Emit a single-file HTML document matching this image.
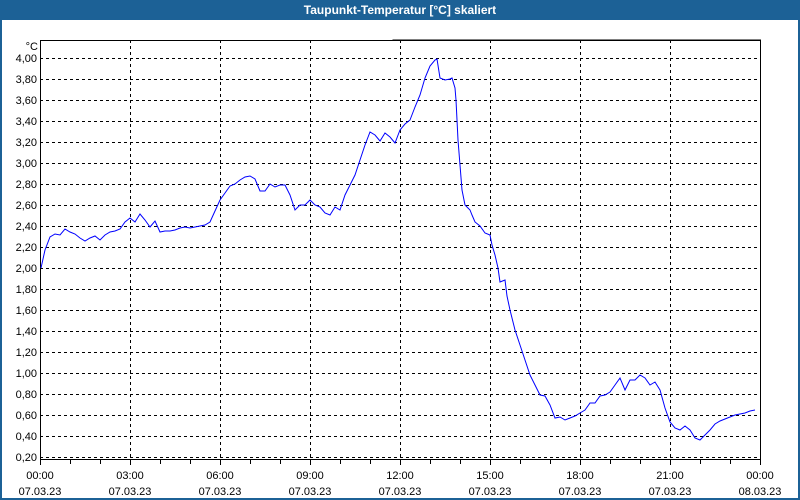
<!DOCTYPE html>
<html><head><meta charset="utf-8"><style>
html,body{margin:0;padding:0;background:#fff;}
svg{display:block;font-family:"Liberation Sans",Tahoma,sans-serif;}
</style></head><body>
<svg width="800" height="500" viewBox="0 0 800 500" xmlns="http://www.w3.org/2000/svg">
<rect x="0" y="0" width="800" height="500" fill="#1c6196"/>
<rect x="2" y="20" width="796" height="478" fill="#fff"/>
<text x="400" y="14" fill="#fff" font-size="12" font-weight="bold" text-anchor="middle">Taupunkt-Temperatur [°C] skaliert</text>
<g stroke="#000" stroke-width="1" stroke-dasharray="3,3" shape-rendering="crispEdges">
<line x1="40" x2="760" y1="58.5" y2="58.5"/><line x1="40" x2="760" y1="79.5" y2="79.5"/><line x1="40" x2="760" y1="100.5" y2="100.5"/><line x1="40" x2="760" y1="121.5" y2="121.5"/><line x1="40" x2="760" y1="142.5" y2="142.5"/><line x1="40" x2="760" y1="163.5" y2="163.5"/><line x1="40" x2="760" y1="184.5" y2="184.5"/><line x1="40" x2="760" y1="205.5" y2="205.5"/><line x1="40" x2="760" y1="226.5" y2="226.5"/><line x1="40" x2="760" y1="247.5" y2="247.5"/><line x1="40" x2="760" y1="268.5" y2="268.5"/><line x1="40" x2="760" y1="289.5" y2="289.5"/><line x1="40" x2="760" y1="310.5" y2="310.5"/><line x1="40" x2="760" y1="331.5" y2="331.5"/><line x1="40" x2="760" y1="352.5" y2="352.5"/><line x1="40" x2="760" y1="373.5" y2="373.5"/><line x1="40" x2="760" y1="394.5" y2="394.5"/><line x1="40" x2="760" y1="415.5" y2="415.5"/><line x1="40" x2="760" y1="436.5" y2="436.5"/><line x1="40" x2="760" y1="457.5" y2="457.5"/>
<line x1="130.5" x2="130.5" y1="40" y2="460"/><line x1="220.5" x2="220.5" y1="40" y2="460"/><line x1="310.5" x2="310.5" y1="40" y2="460"/><line x1="400.5" x2="400.5" y1="40" y2="460"/><line x1="490.5" x2="490.5" y1="40" y2="460"/><line x1="580.5" x2="580.5" y1="40" y2="460"/><line x1="670.5" x2="670.5" y1="40" y2="460"/>
</g>
<g stroke="#000" stroke-width="1" fill="none" shape-rendering="crispEdges">
<polyline points="40.5,40 40.5,459.5 760.5,459.5 760.5,40 40,40.5 760,40.5"/>
<path d="M40.5 460v5M70.5 460v4M100.5 460v4M130.5 460v5M160.5 460v4M190.5 460v4M220.5 460v5M250.5 460v4M280.5 460v4M310.5 460v5M340.5 460v4M370.5 460v4M400.5 460v5M430.5 460v4M460.5 460v4M490.5 460v5M520.5 460v4M550.5 460v4M580.5 460v5M610.5 460v4M640.5 460v4M670.5 460v5M700.5 460v4M730.5 460v4M760.5 460v5"/>
</g>
<g font-size="11" fill="#000" text-anchor="end">
<text x="38" y="50">°C</text>
<text x="37" y="62">4,00</text><text x="37" y="83">3,80</text><text x="37" y="104">3,60</text><text x="37" y="125">3,40</text><text x="37" y="146">3,20</text><text x="37" y="167">3,00</text><text x="37" y="188">2,80</text><text x="37" y="209">2,60</text><text x="37" y="230">2,40</text><text x="37" y="251">2,20</text><text x="37" y="272">2,00</text><text x="37" y="293">1,80</text><text x="37" y="314">1,60</text><text x="37" y="335">1,40</text><text x="37" y="356">1,20</text><text x="37" y="377">1,00</text><text x="37" y="398">0,80</text><text x="37" y="419">0,60</text><text x="37" y="440">0,40</text><text x="37" y="461">0,20</text>
</g>
<g font-size="11" fill="#000" text-anchor="middle">
<text x="40" y="479">00:00</text><text x="40" y="495">07.03.23</text>
<text x="130" y="479">03:00</text><text x="130" y="495">07.03.23</text>
<text x="220" y="479">06:00</text><text x="220" y="495">07.03.23</text>
<text x="310" y="479">09:00</text><text x="310" y="495">07.03.23</text>
<text x="400" y="479">12:00</text><text x="400" y="495">07.03.23</text>
<text x="490" y="479">15:00</text><text x="490" y="495">07.03.23</text>
<text x="580" y="479">18:00</text><text x="580" y="495">07.03.23</text>
<text x="670" y="479">21:00</text><text x="670" y="495">07.03.23</text>
<text x="760" y="479">00:00</text><text x="760" y="495">08.03.23</text>
</g>
<polyline fill="none" stroke="#0000ff" stroke-width="1" points="41,268 45,250 50,237 55,234 60,235 65,229 70,232 75,234 80,238 85,241 90,238 95,236 100,240 105,235 110,232 115,231 120,229 125,222 130,218 135,222 140,214 145,220 150,227 155,221 160,232 165,231 170,231 175,230 180,228 185,227 190,228 195,227 200,226 205,225 210,222 215,211 220,200 225,193 230,186 235,184 240,180 245,177 250,176 255,179 260,191 265,191 270,184 275,187 280,185 285,185 290,195 295,210 300,205 305,205 310,200 315,205 320,207 325,213 330,215 335,207 340,210 345,195 350,185 355,175 360,160 365,145 370,132 375,135 380,141 385,133 390,137 395,143 400,130 405,124 410,120 415,107 420,95 425,78 430,66 435,60 437,59 440,78 445,80 450,79 452,78 455,88 456,100 458,140 460,165 462,190 465,205 470,210 472,215 475,222 480,226 485,233 490,235 492,245 495,255 498,268 500,282 505,280 507,296 510,310 515,330 520,345 525,360 530,375 535,385 540,395 545,396 550,405 555,418 560,417 565,420 570,418 575,416 580,413 585,410 590,403 595,403 600,396 605,395 610,392 615,385 620,378 625,390 630,380 635,380 640,375 645,378 650,385 655,382 660,390 665,408 670,422 675,428 680,430 685,426 690,430 695,438 700,440 705,435 710,430 715,424 720,421 725,419 730,417 735,415 740,414 745,413 750,411 755,410"/>
</svg>
</body></html>
